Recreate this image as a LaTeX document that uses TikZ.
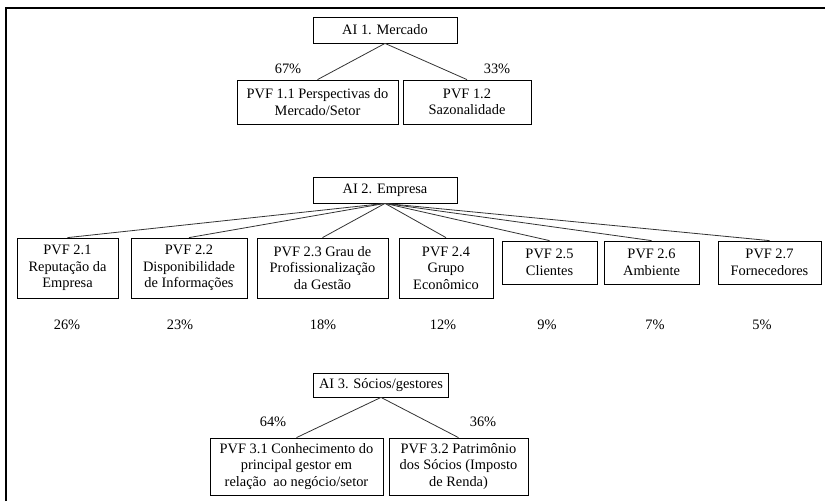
\documentclass[tikz,border=0pt]{standalone}
\usepackage{fontspec}
\setmainfont{Liberation Serif}
\begin{document}
\begin{tikzpicture}[x=0.75pt,y=-0.75pt,
  box/.style 2 args={draw,line width=0.6pt,rectangle,inner sep=0pt,align=center,
    minimum width=0.75*#1pt,minimum height=0.75*#2pt,
    font=\fontsize{10.8}{12.4}\selectfont},
  pct/.style={inner sep=0pt,font=\fontsize{10.8}{12.4}\selectfont},
  link/.style={line width=0.6pt,black!80}]
\useasboundingbox (0,0) rectangle (825,501);
\draw[line width=1.5pt] (6,501) -- (6,8) -- (826,8);
% Level 1
\node[box={144}{26}] (ai1) at (385,30) {AI 1. Mercado};
\node[box={161}{44}] (p11) at (317.5,102) {PVF 1.1 Perspectivas do\\Mercado/Setor};
\node[box={128}{44}] (p12) at (467,102) {PVF 1.2\\Sazonalidade};
\draw[link] (ai1.south) -- (p11.north);
\draw[link] (ai1.south) -- (p12.north);
\node[pct] (c11) at (288,69) {67\%};
\node[pct] (c12) at (497,69) {33\%};
% Level 2
\node[box={144}{26}] (ai2) at (385,190) {AI 2. Empresa};
\node[box={101}{60}] (p21) at (67.5,268) {PVF 2.1\\Reputação da\\Empresa};
\node[box={116}{60}] (p22) at (189,268) {PVF 2.2\\Disponibilidade\\de Informações};
\node[box={131}{60}] (p23) at (322.5,268) {PVF 2.3 Grau de\\Profissionalização\\da Gestão};
\node[box={94}{60}] (p24) at (446,268) {PVF 2.4\\Grupo\\Econômico};
\node[box={95}{43}] (p25) at (549.5,262.5) {PVF 2.5\\Clientes};
\node[box={95}{43}] (p26) at (651.5,262.5) {PVF 2.6\\Ambiente};
\node[box={103}{43}] (p27) at (769.5,262.5) {PVF 2.7\\Fornecedores};
\foreach \n in {p21,p22,p23,p24,p25,p26,p27} \draw[link] (ai2.south) -- (\n.north);
\node[pct] (c21) at (67,325) {26\%};
\node[pct] (c22) at (180,325) {23\%};
\node[pct] (c23) at (323,325) {18\%};
\node[pct] (c24) at (443,325) {12\%};
\node[pct] (c25) at (547,325) {9\%};
\node[pct] (c26) at (655,325) {7\%};
\node[pct] (c27) at (762,325) {5\%};
% Level 3
\node[box={135}{24}] (ai3) at (381,385) {AI 3. Sócios/gestores};
\node[box={173}{57}] (p31) at (296.5,466.5) {PVF 3.1 Conhecimento do\\principal gestor em\\relação\ \ ao negócio/setor};
\node[box={139}{57}] (p32) at (458.5,466.5) {PVF 3.2 Patrimônio\\dos Sócios (Imposto\\de Renda)};
\draw[link] (ai3.south) -- (p31.north);
\draw[link] (ai3.south) -- (p32.north);
\node[pct] (c31) at (273,422) {64\%};
\node[pct] (c32) at (483,422) {36\%};
\end{tikzpicture}
\end{document}
